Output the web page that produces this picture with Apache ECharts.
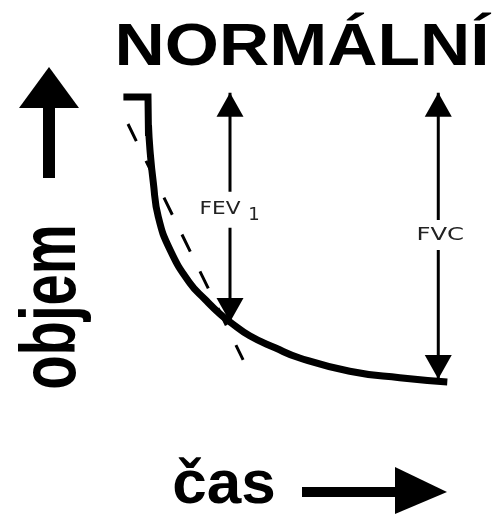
<!DOCTYPE html>
<html>
<head>
<meta charset="utf-8">
<script src="https://cdn.jsdelivr.net/npm/echarts@6/dist/echarts.min.js"></script>
<style>
html, body { margin: 0; padding: 0; background: #fff; }
#chart { width: 501px; height: 516px; }
</style>
</head>
<body>
<div id="chart"></div>
<script>
// spirogram: volume (L) against time (s)
const startCorner = [[-0.3, 4.75], [0, 4.75], [0.006, 4.1]];
const curve = [
    [0.006, 4.28], [0.024, 3.87], [0.065, 3.32], [0.126, 2.75], [0.27, 2.2],
    [0.51, 1.65], [0.70, 1.37], [0.88, 1.13], [1.0, 1.0], [1.24, 0.77],
    [1.55, 0.57], [1.85, 0.40], [2.46, 0.18], [3.07, 0.07], [3.65, 0.0]
];
const tangent = [[-0.244, 4.30], [1.16, 0.37]];
// [time, top tip, gap top, gap bottom, bottom tip]
const fev1 = [1.0, 4.82, 3.17, 2.57, 1.0];
const fvc = [3.54, 4.82, 2.70, 2.20, 0.05];
const labels = ['NORMÁLNÍ', 'objem', 'čas', 'FEV', '1', 'FVC'];

const chart = echarts.init(document.getElementById('chart'));

const headSize = [27, 24];

function arrowSeries(name, a) {
    const tip = function (t, v, down) {
        return {
            value: [t, v],
            symbol: 'triangle',
            symbolSize: headSize,
            symbolRotate: down ? 180 : 0,
            symbolOffset: [0, down ? -headSize[1] / 2 : headSize[1] / 2]
        };
    };
    return [
        {
            name: name + ' top',
            type: 'line',
            symbol: 'none',
            showSymbol: true,
            z: 3,
            itemStyle: { color: '#000', borderWidth: 0 },
            lineStyle: { color: '#000', width: 3 },
            data: [[a[0], a[2]], tip(a[0], a[1], false)]
        },
        {
            name: name + ' bottom',
            type: 'line',
            symbol: 'none',
            showSymbol: true,
            z: 3,
            itemStyle: { color: '#000', borderWidth: 0 },
            lineStyle: { color: '#000', width: 3 },
            data: [[a[0], a[3]], tip(a[0], a[4], true)]
        }
    ];
}

const option = {
    animation: false,
    backgroundColor: '#fff',
    grid: { left: 107, right: 25, top: 52, bottom: 104 },
    xAxis: { type: 'value', min: -0.5, max: 4, show: false },
    yAxis: { type: 'value', min: -0.5, max: 5.5, show: false },
    series: [
        {
            name: 'start',
            type: 'line',
            data: startCorner,
            showSymbol: false,
            lineStyle: { color: '#000', width: 7, join: 'miter' }
        },
        {
            name: 'curve',
            type: 'line',
            data: curve,
            smooth: 0.5,
            showSymbol: false,
            lineStyle: { color: '#000', width: 7 }
        },
        {
            name: 'tangent',
            type: 'line',
            data: tangent,
            showSymbol: false,
            z: 1,
            lineStyle: { color: '#000', width: 3, type: [19, 22] }
        }
    ].concat(arrowSeries('FEV1', fev1), arrowSeries('FVC', fvc))
};
chart.setOption(option);

const fevPos = chart.convertToPixel({ xAxisIndex: 0, yAxisIndex: 0 }, [fev1[0], (fev1[2] + fev1[3]) / 2]);
const fvcPos = chart.convertToPixel({ xAxisIndex: 0, yAxisIndex: 0 }, [fvc[0], (fvc[2] + fvc[3]) / 2]);

const smallFont = '18px "DejaVu Sans"';
chart.setOption({
    graphic: [
        {
            type: 'text', x: 302, y: 48, scaleX: 1.16,
            style: { text: labels[0], font: 'bold 60px "Liberation Sans"', fill: '#000', align: 'center', verticalAlign: 'middle' }
        },
        {
            type: 'text', x: 54, y: 307, rotation: Math.PI / 2, scaleX: 0.73,
            style: { text: labels[1], font: 'bold 77px "Liberation Sans"', fill: '#000', align: 'center', verticalAlign: 'middle' }
        },
        { type: 'rect', shape: { x: 43, y: 106, width: 12, height: 72 }, style: { fill: '#000' } },
        { type: 'polygon', shape: { points: [[49, 67], [79, 108], [19, 108]] }, style: { fill: '#000' } },
        {
            type: 'text', x: 224, y: 486,
            style: { text: labels[2], font: 'bold 62px "Liberation Sans"', fill: '#000', align: 'center', verticalAlign: 'middle' }
        },
        { type: 'rect', shape: { x: 302, y: 487, width: 95, height: 10 }, style: { fill: '#000' } },
        { type: 'polygon', shape: { points: [[395, 467], [447, 492], [395, 514]] }, style: { fill: '#000' } },
        {
            type: 'text', x: fevPos[0] - 10, y: fevPos[1], scaleX: 1.2,
            style: { text: labels[3], font: smallFont, fill: '#222', align: 'center', verticalAlign: 'middle' }
        },
        {
            type: 'text', x: fevPos[0] + 24, y: fevPos[1] + 6,
            style: { text: labels[4], font: smallFont, fill: '#222', align: 'center', verticalAlign: 'middle' }
        },
        {
            type: 'text', x: fvcPos[0] + 2, y: fvcPos[1], scaleX: 1.35,
            style: { text: labels[5], font: smallFont, fill: '#222', align: 'center', verticalAlign: 'middle' }
        }
    ]
});
</script>
</body>
</html>
